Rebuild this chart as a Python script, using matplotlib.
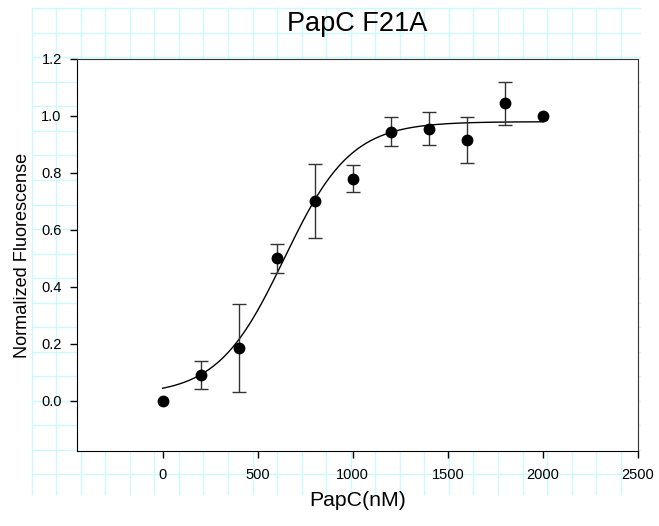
import numpy as np
import matplotlib.pyplot as plt

plt.rcParams['font.family'] = ['Liberation Sans', 'DejaVu Sans']

# measured data
conc = [0, 200, 400, 600, 800, 1000, 1200, 1400, 1600, 1800, 2000]
fluor = [0.0, 0.09, 0.185, 0.50, 0.70, 0.78, 0.945, 0.955, 0.915, 1.045, 1.0]
err = [0.0, 0.05, 0.155, 0.05, 0.13, 0.048, 0.05, 0.058, 0.08, 0.075, 0.0]

# sigmoid fit parameters (y0 + a / (1 + exp(-(x - x0) / b)))
fit_y0, fit_a, fit_x0, fit_b = 0.02, 0.96, 640, 175

xticks = [0, 500, 1000, 1500, 2000, 2500]
yticks = [0.0, 0.2, 0.4, 0.6, 0.8, 1.0, 1.2]

W, H = 659, 526
fig = plt.figure(figsize=(W / 100, H / 100), dpi=100)

# graph-paper background
bg = fig.add_axes([0, 0, 1, 1], zorder=-1)
bg.set_xlim(0, W)
bg.set_ylim(H, 0)
bg.axis('off')
step = 24.54
for k in range(25):
    gx = 31.7 + k * step
    bg.plot([gx, gx], [8.3, 494], color='#ccfafa', lw=1)
for k in range(20):
    gy = 8.3 + k * 24.53
    bg.plot([31.7, 640], [gy, gy], color='#ccfafa', lw=1)

ax = fig.add_axes([77 / W, 1 - 451 / H, (638 - 77) / W, (451 - 59) / H])
ax.set_facecolor('white')

xs = np.linspace(0, 2000, 300)
ys = fit_y0 + fit_a / (1 + np.exp(-(xs - fit_x0) / fit_b))
ax.plot(xs, ys, color='black', lw=1, zorder=2)

e = np.array(err)
ax.errorbar(conc, fluor, yerr=np.where(e > 0, e, np.nan), fmt='none',
            ecolor='#333333', elinewidth=1, capsize=5, capthick=1, zorder=3)
ax.plot(conc, fluor, 'o', color='black', ms=7.5, zorder=4)

ax.set_xlim(-450, 2500)
ax.set_ylim(-0.176, 1.2)
ax.set_xticks(xticks)
ax.set_yticks(yticks)
ax.set_yticklabels([f'{v:.1f}' for v in yticks])
ax.tick_params(direction='out', length=5, width=1, labelsize=10.5)
ax.tick_params(axis='x', pad=7)
ax.tick_params(axis='y', pad=6)
for s in ['left', 'bottom']:
    ax.spines[s].set_color('black')
for s in ['top', 'right']:
    ax.spines[s].set_color('#333333')

ax.set_title('PapC F21A', fontsize=19.5, pad=20)
ax.set_xlabel('PapC(nM)', fontsize=15.3, labelpad=7)
ax.set_ylabel('Normalized Fluorescense', fontsize=13.1, labelpad=7)

fig.savefig('out.png', dpi=100)
